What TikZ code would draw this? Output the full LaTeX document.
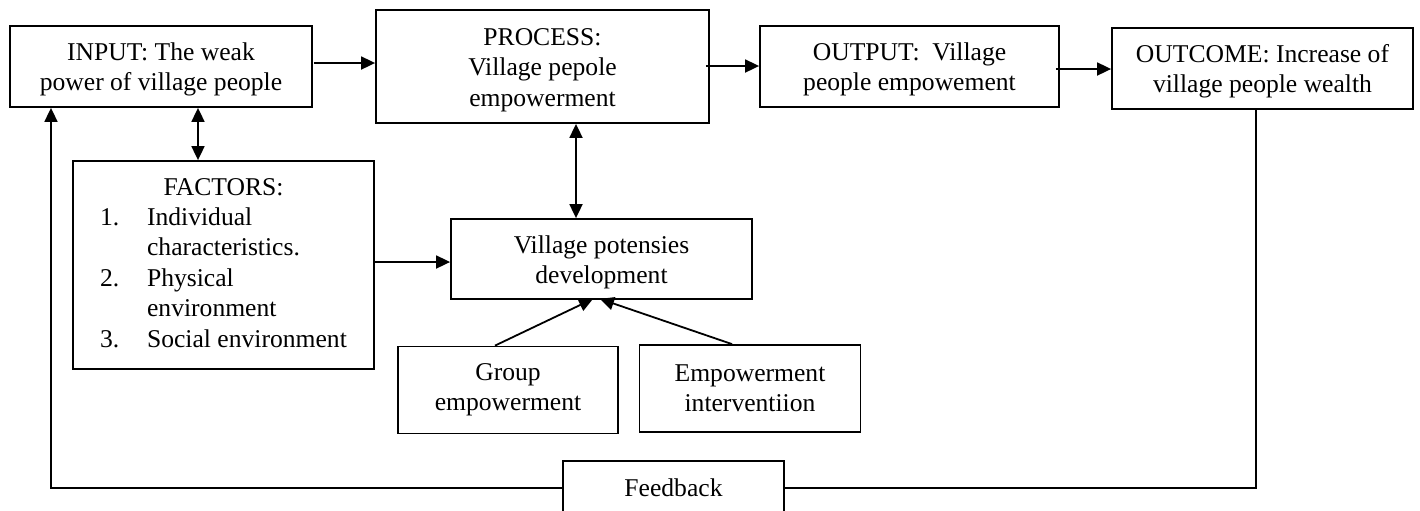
\documentclass[tikz,border=0pt]{standalone}
\usepackage{fontspec}
\setmainfont{Liberation Serif}
\usetikzlibrary{arrows.meta,calc}
\newcommand\boxfont{\fontsize{12.8}{15.2}\selectfont}
\newcommand\lowtxt[1]{\raisebox{-1.6pt}[\height][\depth]{\begin{tabular}{@{}c@{}}#1\end{tabular}}}
\begin{document}
\begin{tikzpicture}[x=0.5pt,y=-0.5pt,
  box/.style={draw, line width=0.9pt, fill=white, inner sep=0pt, align=center, font=\boxfont},
  arr/.style={line width=0.9pt, -{Triangle[length=7pt,width=6.5pt]}},
  dbl/.style={line width=0.9pt, {Triangle[length=7pt,width=6.5pt]}-{Triangle[length=7pt,width=6.5pt]}},
  ln/.style={line width=0.9pt}]
\useasboundingbox (0,0) rectangle (1420,510);
\clip (0,0) rectangle (1420,510);
% nodes
\node[box, minimum width=151pt, minimum height=40.5pt] (input) at (161,66.5) {\lowtxt{INPUT: The weak\\power of village people}};
\node[box, minimum width=166.5pt, minimum height=56.5pt] (process) at (542.5,66.5) {\lowtxt{PROCESS:\\Village pepole\\empowerment}};
\node[box, minimum width=149.5pt, minimum height=40.5pt] (output) at (909.5,66.5) {\lowtxt{OUTPUT:\ \ Village\\people empowement}};
\node[box, minimum width=150.5pt, minimum height=40.5pt] (outcome) at (1262.5,68.5) {\lowtxt{OUTCOME: Increase of\\village people wealth}};
\node[box, minimum width=150.5pt, minimum height=104pt] (factors) at (223.5,265) {%
  \begin{tabular}{@{}p{23.5pt}@{}l@{}}
  \multicolumn{2}{c}{FACTORS:}\\
  1. & Individual\\
     & characteristics.\\
  2. & Physical\\
     & environment\\
  3. & Social environment
  \end{tabular}};
\node[box, minimum width=150.5pt, minimum height=40pt] (village) at (601.5,259) {\lowtxt{Village potensies\\development}};
\node[box, minimum width=110pt, minimum height=43.5pt] (group) at (508,390) {Group\\empowerment};
\node[box, minimum width=110.5pt, minimum height=43.5pt] (interv) at (750,388.5) {Empowerment\\interventiion};
% feedback path (drawn before the node so the node covers it)
\coordinate (o) at ($(outcome.south)+(-6.5,0)$);
\coordinate (fbr) at (784,488);
\coordinate (fbl) at (563,488);
\draw[ln] (o) |- (fbr);
\draw[arr] (fbl) -| ($(input.south)+(-110,0)$);
\node[box, minimum width=110.5pt, minimum height=27pt] (fb) at (673.5,488) {Feedback};
% connectors
\draw[arr] ($(input.east)+(1,-3.5)$) coordinate (a1) -- (a1 -| process.west);
\draw[arr] ($(process.east)+(-4,-0.5)$) coordinate (a2) -- (a2 -| output.west);
\draw[arr] ($(output.east)+(-4,2.5)$) coordinate (a3) -- (a3 -| outcome.west);
\draw[dbl] ($(input.south)+(37,0)$) coordinate (a4) -- (a4 |- factors.north);
\draw[dbl] ($(process.south)+(33.5,0)$) coordinate (a5) -- (a5 |- village.north);
\draw[arr] ($(factors.east)+(0,-3)$) coordinate (a6) -- (a6 -| village.west);
\draw[arr] ($(group.north)+(-13,0)$) -- ($(village.south)+(-8.5,-1)$);
\draw[arr] ($(interv.north)+(-18,0)$) -- ($(village.south)+(-1.5,-1)$);
\end{tikzpicture}
\end{document}
